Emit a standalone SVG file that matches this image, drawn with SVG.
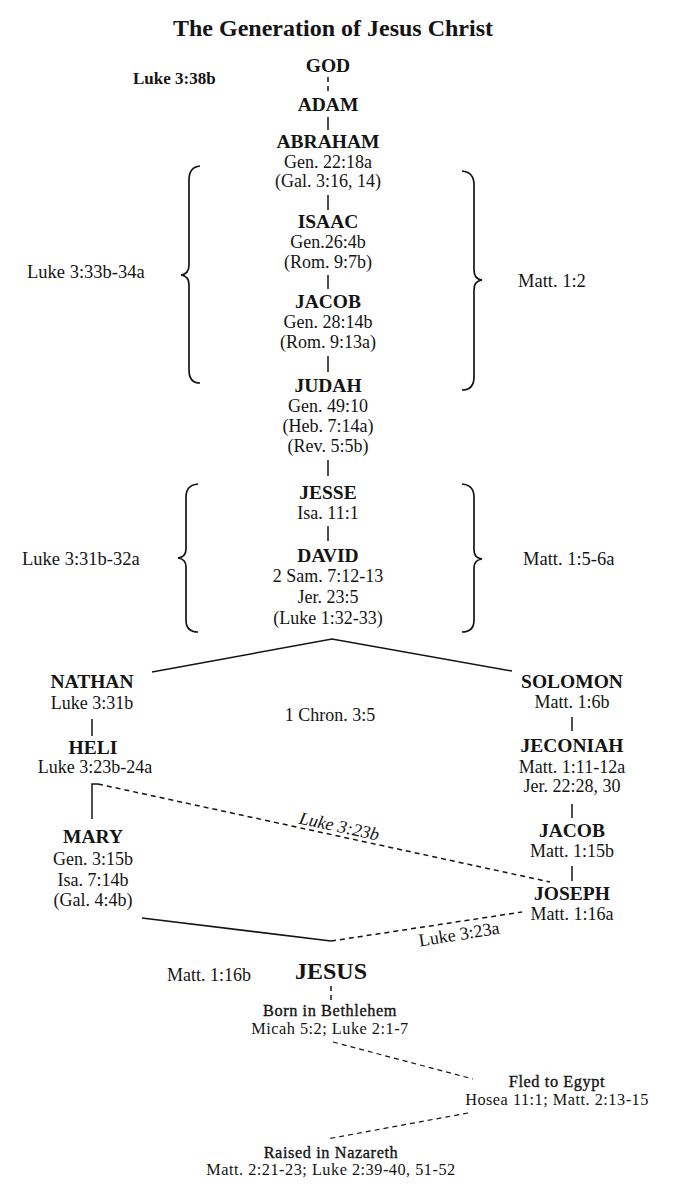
<svg xmlns="http://www.w3.org/2000/svg" width="691" height="1195" viewBox="0 0 691 1195">
<style>
text{font-family:"Liberation Serif","Times New Roman",serif;fill:#141414}
.title{font-size:24px;font-weight:bold;text-anchor:middle}
.name{font-size:19.5px;font-weight:bold;text-anchor:middle}
.ref{font-size:18px;text-anchor:middle}
.side{font-size:18.5px}
.small{font-size:16.3px;text-anchor:middle;letter-spacing:0.5px}
.ev{font-size:16.3px;text-anchor:middle;letter-spacing:0.6px;stroke:#141414;stroke-width:0.35px}
.ln{stroke:#141414;stroke-width:1.5;fill:none}
.da{stroke-dasharray:5 4}
.br{stroke:#141414;stroke-width:1.7;fill:none}
</style>
<rect width="691" height="1195" fill="#ffffff"/>
<text class="title" x="333" y="36">The Generation of Jesus Christ</text>
<text x="133" y="84" style="font-size:17px;font-weight:bold">Luke 3:38b</text>

<g id="connectors">
  <line class="ln da" x1="328" y1="77" x2="328" y2="94"/>
  <line class="ln" x1="328" y1="117" x2="328" y2="130"/>
  <line class="ln" x1="328" y1="195" x2="328" y2="210"/>
  <line class="ln" x1="328" y1="275" x2="328" y2="289"/>
  <line class="ln" x1="328" y1="356" x2="328" y2="372"/>
  <line class="ln" x1="328" y1="460" x2="328" y2="476"/>
  <line class="ln" x1="328" y1="526" x2="328" y2="541"/>
  <polyline class="ln" points="152,672 332,639 512,671"/>
  <line class="ln" x1="92" y1="719" x2="92" y2="736"/>
  <line class="ln" x1="572" y1="717" x2="572" y2="731"/>
  <line class="ln" x1="572" y1="804" x2="572" y2="818"/>
  <line class="ln" x1="572" y1="866" x2="572" y2="881"/>
  <polyline class="ln" points="98,784 92,784 92,819"/>
  <line class="ln da" x1="98" y1="784" x2="550" y2="882"/>
  <line class="ln" x1="142" y1="918" x2="331" y2="941"/>
  <line class="ln da" x1="331" y1="941" x2="522" y2="912"/>
  <line class="ln da" x1="331" y1="986" x2="331" y2="1002"/>
  <line class="ln da" x1="333" y1="1042" x2="473" y2="1079" style="stroke-width:1.2"/>
  <line class="ln da" x1="468" y1="1113" x2="327" y2="1139" style="stroke-width:1.2"/>
  <text x="338" y="832" transform="rotate(12.2 338 832)" style="font-size:18px;font-style:italic;text-anchor:middle">Luke 3:23b</text>
  <text x="460" y="940" transform="rotate(-9.2 460 940)" style="font-size:18px;text-anchor:middle">Luke 3:23a</text>
</g>

<g id="braces">
  <path class="br" d="M200,166 Q189,167 189,180 L189,265 Q189,274 181,275 Q189,276 189,285 L189,370 Q189,383 200,383"/>
  <path class="br" d="M462,171 Q474,172 474,185 L474,270 Q474,279 482,280 Q474,281 474,290 L474,377 Q474,390 462,390"/>
  <path class="br" d="M198,484 Q186,485 186,497 L186,549 Q186,557 178,558 Q186,559 186,567 L186,620 Q186,632 198,632"/>
  <path class="br" d="M462,484 Q474,485 474,497 L474,550 Q474,558 482,559 Q474,560 474,568 L474,620 Q474,632 462,632"/>
  <text class="side" x="27" y="278">Luke 3:33b-34a</text>
  <text class="side" x="518" y="287">Matt. 1:2</text>
  <text class="side" x="22" y="565">Luke 3:31b-32a</text>
  <text class="side" x="523" y="565">Matt. 1:5-6a</text>
</g>

<g id="god"><text class="name" x="328" y="72">GOD</text></g>
<g id="adam"><text class="name" x="328" y="111">ADAM</text></g>
<g id="abraham">
  <text class="name" x="328" y="148">ABRAHAM</text>
  <text class="ref" x="328" y="168">Gen. 22:18a</text>
  <text class="ref" x="328" y="187">(Gal. 3:16, 14)</text>
</g>
<g id="isaac">
  <text class="name" x="328" y="228">ISAAC</text>
  <text class="ref" x="328" y="248">Gen.26:4b</text>
  <text class="ref" x="328" y="268">(Rom. 9:7b)</text>
</g>
<g id="jacob1">
  <text class="name" x="328" y="308">JACOB</text>
  <text class="ref" x="328" y="328">Gen. 28:14b</text>
  <text class="ref" x="328" y="348">(Rom. 9:13a)</text>
</g>
<g id="judah">
  <text class="name" x="328" y="392">JUDAH</text>
  <text class="ref" x="328" y="412">Gen. 49:10</text>
  <text class="ref" x="328" y="432">(Heb. 7:14a)</text>
  <text class="ref" x="328" y="452">(Rev. 5:5b)</text>
</g>
<g id="jesse">
  <text class="name" x="328" y="499">JESSE</text>
  <text class="ref" x="328" y="519">Isa. 11:1</text>
</g>
<g id="david">
  <text class="name" x="328" y="562">DAVID</text>
  <text class="ref" x="328" y="582">2 Sam. 7:12-13</text>
  <text class="ref" x="328" y="603">Jer. 23:5</text>
  <text class="ref" x="328" y="624">(Luke 1:32-33)</text>
</g>
<g id="chron"><text class="ref" x="330" y="721">1 Chron. 3:5</text></g>
<g id="nathan">
  <text class="name" x="92" y="688">NATHAN</text>
  <text class="ref" x="92" y="709">Luke 3:31b</text>
</g>
<g id="heli">
  <text class="name" x="93" y="754">HELI</text>
  <text class="ref" x="95" y="773">Luke 3:23b-24a</text>
</g>
<g id="mary">
  <text class="name" x="93" y="843">MARY</text>
  <text class="ref" x="93" y="865">Gen. 3:15b</text>
  <text class="ref" x="93" y="886">Isa. 7:14b</text>
  <text class="ref" x="93" y="906">(Gal. 4:4b)</text>
</g>
<g id="solomon">
  <text class="name" x="572" y="688">SOLOMON</text>
  <text class="ref" x="572" y="708">Matt. 1:6b</text>
</g>
<g id="jeconiah">
  <text class="name" x="572" y="752">JECONIAH</text>
  <text class="ref" x="572" y="773">Matt. 1:11-12a</text>
  <text class="ref" x="572" y="792">Jer. 22:28, 30</text>
</g>
<g id="jacob2">
  <text class="name" x="572" y="837">JACOB</text>
  <text class="ref" x="572" y="857">Matt. 1:15b</text>
</g>
<g id="joseph">
  <text class="name" x="572" y="900">JOSEPH</text>
  <text class="ref" x="572" y="920">Matt. 1:16a</text>
</g>
<g id="jesus">
  <text x="167" y="981" style="font-size:18px">Matt. 1:16b</text>
  <text x="331" y="979" style="font-size:24px;font-weight:bold;text-anchor:middle">JESUS</text>
</g>
<g id="bethlehem">
  <text class="ev" x="330" y="1016">Born in Bethlehem</text>
  <text class="small" x="330" y="1034">Micah 5:2; Luke 2:1-7</text>
</g>
<g id="egypt">
  <text class="ev" x="557" y="1087">Fled to Egypt</text>
  <text class="small" x="557" y="1105">Hosea 11:1; Matt. 2:13-15</text>
</g>
<g id="nazareth">
  <text class="ev" x="331" y="1158">Raised in Nazareth</text>
  <text class="small" x="331" y="1175">Matt. 2:21-23; Luke 2:39-40, 51-52</text>
</g>
</svg>
